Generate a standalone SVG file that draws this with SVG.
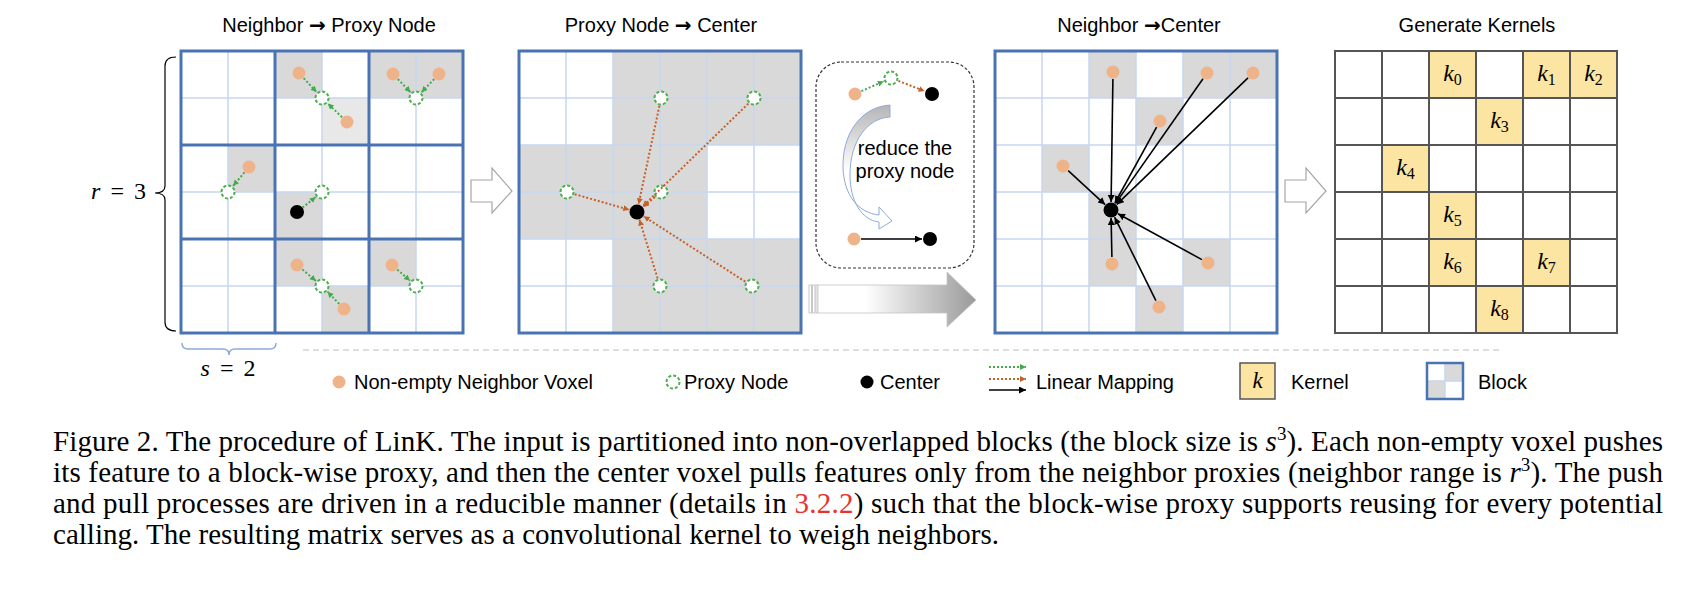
<svg xmlns="http://www.w3.org/2000/svg" width="1698" height="594" viewBox="0 0 1698 594">
<style>
.t{font-family:"Liberation Sans",Arial,sans-serif;font-size:20px;fill:#000}
.ar{font-family:"DejaVu Sans",sans-serif;font-weight:bold}
.m{font-family:"Liberation Serif","Times New Roman",serif;fill:#000}
.cap{font-family:"Liberation Serif","Times New Roman",serif;font-size:29px;fill:#000}
.gray{fill:#d9d9d9}
.thin{stroke:#c5d8ef;stroke-width:1.5;fill:none}
.thick{stroke:#4a73b3;stroke-width:3;fill:none}
.kl{stroke:#555;stroke-width:2;fill:none}
.yel{fill:#fce5a2}
.dot{fill:#efb389}
.ctr{fill:#000}
.prx{fill:#fff;stroke:#4caf50;stroke-width:2;stroke-dasharray:3 2}
.ga{stroke:#44aa4c;stroke-width:2;stroke-dasharray:2 2;fill:none;marker-end:url(#mg)}
.oa{stroke:#c4612a;stroke-width:2;stroke-dasharray:2 2;fill:none;marker-end:url(#mo)}
.ka{stroke:#000;stroke-width:1.6;fill:none;marker-end:url(#mk)}
.hol{fill:#fff;stroke:#a6a6a6;stroke-width:1.2}
</style>
<defs>
<marker id="mg" markerUnits="userSpaceOnUse" markerWidth="7" markerHeight="7" refX="6" refY="3" orient="auto"><path d="M0,0 L6,3 L0,6 z" fill="#44aa4c"/></marker>
<marker id="mo" markerUnits="userSpaceOnUse" markerWidth="7" markerHeight="7" refX="6" refY="3" orient="auto"><path d="M0,0 L6,3 L0,6 z" fill="#c4612a"/></marker>
<marker id="mk" markerUnits="userSpaceOnUse" markerWidth="8" markerHeight="8" refX="7" refY="3.5" orient="auto"><path d="M0,0 L7,3.5 L0,7 z" fill="#000"/></marker>
<linearGradient id="bigG" gradientUnits="userSpaceOnUse" x1="818" y1="0" x2="976" y2="0"><stop offset="0" stop-color="#fff"/><stop offset="0.3" stop-color="#fff"/><stop offset="1" stop-color="#9a9a9a"/></linearGradient>
<linearGradient id="curG" gradientUnits="userSpaceOnUse" x1="0" y1="105" x2="0" y2="225"><stop offset="0" stop-color="#b5b5b5"/><stop offset="0.55" stop-color="#fff"/><stop offset="1" stop-color="#fff"/></linearGradient>
</defs>

<!-- titles -->
<g id="titles">
<text class="t" x="329" y="32" text-anchor="middle">Neighbor <tspan class="ar">→</tspan> Proxy Node</text>
<text class="t" x="661" y="32" text-anchor="middle">Proxy Node <tspan class="ar">→</tspan> Center</text>
<text class="t" x="1139" y="32" text-anchor="middle">Neighbor <tspan class="ar">→</tspan>Center</text>
<text class="t" x="1477" y="32" text-anchor="middle">Generate Kernels</text>
</g>

<!-- panel 1 -->
<g id="panel1">
<rect x="181" y="51" width="282" height="282" fill="#fff"/>
<path class="gray" d="M275,51h47v47h-47z M369,51h94v47h-94z M228,145h47v47h-47z M275,192h47v94h-47z M369,239h47v47h-47z M322,286h47v47h-47z"/>
<rect x="322" y="98" width="47" height="47" fill="#e8e8e8"/>
<path class="thin" d="M228,51V333 M322,51V333 M416,51V333 M181,98H463 M181,192H463 M181,286H463"/>
<path class="thick" d="M275,51V333 M369,51V333 M181,145H463 M181,239H463"/>
<rect class="thick" x="181" y="51" width="282" height="282"/>
</g>
<g id="panel1-nodes">
<circle class="dot" cx="299" cy="73" r="6.5"/>
<circle class="dot" cx="347" cy="122" r="6.5"/>
<circle class="dot" cx="393" cy="74" r="6.5"/>
<circle class="dot" cx="439" cy="74" r="6.5"/>
<circle class="dot" cx="249" cy="167" r="6.5"/>
<circle class="dot" cx="297" cy="265" r="6.5"/>
<circle class="dot" cx="344" cy="309" r="6.5"/>
<circle class="dot" cx="392" cy="265" r="6.5"/>
<circle class="ctr" cx="297" cy="212" r="7"/>
<circle class="prx" cx="322" cy="98" r="6.5"/>
<circle class="prx" cx="416" cy="98" r="6.5"/>
<circle class="prx" cx="228" cy="192" r="6.5"/>
<circle class="prx" cx="322" cy="192" r="6.5"/>
<circle class="prx" cx="322" cy="286" r="6.5"/>
<circle class="prx" cx="416" cy="286" r="6.5"/>
</g>

<!-- panel 2 -->
<g id="panel2">
<rect x="519" y="51" width="282" height="282" fill="#fff"/>
<path class="gray" d="M613,51h188v94h-188z M519,145h188v94h-188z M613,239h188v94h-188z"/>
<path class="thin" d="M566,51V333 M613,51V333 M660,51V333 M707,51V333 M754,51V333 M519,98H801 M519,145H801 M519,192H801 M519,239H801 M519,286H801"/>
<rect class="thick" x="519" y="51" width="282" height="282"/>
</g>
<g id="panel2-nodes">
<circle class="ctr" cx="637" cy="212" r="7.5"/>
<circle class="prx" cx="661" cy="98" r="6.5"/>
<circle class="prx" cx="754" cy="98" r="6.5"/>
<circle class="prx" cx="567" cy="192" r="6.5"/>
<circle class="prx" cx="661" cy="192" r="6.5"/>
<circle class="prx" cx="660" cy="286" r="6.5"/>
<circle class="prx" cx="752" cy="286" r="6.5"/>
</g>

<!-- reduce box -->
<g id="reduce">
<rect x="816" y="62" width="158" height="206" rx="25" fill="none" stroke="#333" stroke-width="1.2" stroke-dasharray="3 2"/>
<path d="M890,105 C860,107 842,135 843,168 C844,196 859,213 879,215 L879,207 L892,221 L879,229 L879,222 C861,220 850,200 850,175 C850,140 868,118 890,117 Z" fill="url(#curG)" stroke="#8eaadb" stroke-width="1"/>
<text class="t" x="905" y="155" text-anchor="middle">reduce the</text>
<text class="t" x="905" y="178" text-anchor="middle">proxy node</text>
<circle class="dot" cx="855" cy="94" r="6.5"/>
<circle class="prx" cx="891" cy="78" r="6.5"/>
<circle class="ctr" cx="932" cy="94" r="7"/>
<circle class="dot" cx="854" cy="239" r="6.5"/>
<circle class="ctr" cx="930" cy="239" r="7"/>
</g>

<!-- big gradient arrow -->
<g id="big-arrow">
<rect x="809" y="285" width="2.5" height="28" fill="#fff" stroke="#bbb" stroke-width="0.8"/>
<rect x="812.5" y="285" width="2.5" height="28" fill="#fff" stroke="#bbb" stroke-width="0.8"/>
<rect x="816" y="285" width="2" height="28" fill="#fff" stroke="#bbb" stroke-width="0.8"/>
<polygon points="818,285 947,285 947,272 976,300 947,327 947,313 818,313" fill="url(#bigG)" stroke="#c4c4c4" stroke-width="0.8"/>
</g>

<!-- panel 3 -->
<g id="panel3">
<rect x="995" y="51" width="282" height="282" fill="#fff"/>
<path class="gray" d="M1089,51h47v47h-47z M1183,51h94v47h-94z M1136,98h47v47h-47z M1042,145h47v47h-47z M1089,192h47v94h-47z M1183,239h47v47h-47z M1136,286h47v47h-47z"/>
<path class="thin" d="M1042,51V333 M1089,51V333 M1136,51V333 M1183,51V333 M1230,51V333 M995,98H1277 M995,145H1277 M995,192H1277 M995,239H1277 M995,286H1277"/>
<rect class="thick" x="995" y="51" width="282" height="282"/>
</g>
<g id="panel3-nodes">
<circle class="dot" cx="1113" cy="72" r="6.5"/>
<circle class="dot" cx="1207" cy="73" r="6.5"/>
<circle class="dot" cx="1253" cy="73" r="6.5"/>
<circle class="dot" cx="1160" cy="121" r="6.5"/>
<circle class="dot" cx="1063" cy="166" r="6.5"/>
<circle class="dot" cx="1112" cy="264" r="6.5"/>
<circle class="dot" cx="1208" cy="263" r="6.5"/>
<circle class="dot" cx="1159" cy="307" r="6.5"/>
<circle class="ctr" cx="1111" cy="210" r="7.5"/>
</g>

<!-- panel 4 kernels -->
<g id="panel4">
<rect x="1335" y="51" width="282" height="282" fill="#fff"/>
<path class="yel" d="M1429,51h47v47h-47z M1523,51h94v47h-94z M1476,98h47v47h-47z M1382,145h47v47h-47z M1429,192h47v94h-47z M1523,239h47v47h-47z M1476,286h47v47h-47z"/>
<path class="kl" d="M1382,51V333 M1429,51V333 M1476,51V333 M1523,51V333 M1570,51V333 M1335,98H1617 M1335,145H1617 M1335,192H1617 M1335,239H1617 M1335,286H1617"/>
<rect class="kl" x="1335" y="51" width="282" height="282"/>
<g class="m" font-size="24" text-anchor="middle">
<text x="1452.5" y="81"><tspan font-style="italic">k</tspan><tspan font-size="16" dy="4">0</tspan></text>
<text x="1546.5" y="81"><tspan font-style="italic">k</tspan><tspan font-size="16" dy="4">1</tspan></text>
<text x="1593.5" y="81"><tspan font-style="italic">k</tspan><tspan font-size="16" dy="4">2</tspan></text>
<text x="1499.5" y="128"><tspan font-style="italic">k</tspan><tspan font-size="16" dy="4">3</tspan></text>
<text x="1405.5" y="175"><tspan font-style="italic">k</tspan><tspan font-size="16" dy="4">4</tspan></text>
<text x="1452.5" y="222"><tspan font-style="italic">k</tspan><tspan font-size="16" dy="4">5</tspan></text>
<text x="1452.5" y="269"><tspan font-style="italic">k</tspan><tspan font-size="16" dy="4">6</tspan></text>
<text x="1546.5" y="269"><tspan font-style="italic">k</tspan><tspan font-size="16" dy="4">7</tspan></text>
<text x="1499.5" y="316"><tspan font-style="italic">k</tspan><tspan font-size="16" dy="4">8</tspan></text>
</g>
</g>

<!-- hollow arrows between panels -->
<g id="hollow-arrows">
<polygon class="hol" points="471,180 492,180 492,168 512,191 492,213 492,202 471,202"/>
<polygon class="hol" points="1285,180 1306,180 1306,168 1326,191 1306,213 1306,202 1285,202"/>
</g>

<!-- connectors -->
<g id="connectors">
<line class="ga" x1="303.7" y1="78.2" x2="316.6" y2="92.1"/>
<line class="ga" x1="342" y1="117.2" x2="327.8" y2="103.5"/>
<line class="ga" x1="397.8" y1="79.1" x2="410.5" y2="92.2"/>
<line class="ga" x1="434.2" y1="79.1" x2="421.5" y2="92.2"/>
<line class="ga" x1="244.5" y1="172.4" x2="233.1" y2="185.9"/>
<line class="ga" x1="302.5" y1="207.6" x2="315.8" y2="197"/>
<line class="ga" x1="302.4" y1="269.5" x2="315.9" y2="280.9"/>
<line class="ga" x1="339.2" y1="303.9" x2="327.5" y2="291.8"/>
<line class="ga" x1="397.3" y1="269.6" x2="410" y2="280.7"/>

<line class="oa" x1="659.4" y1="105.8" x2="638.6" y2="204.2"/>
<line class="oa" x1="748.3" y1="103.6" x2="642.7" y2="206.4"/>
<line class="oa" x1="574.7" y1="194.2" x2="629.3" y2="209.8"/>
<line class="oa" x1="654.9" y1="197.1" x2="643.1" y2="206.9"/>
<line class="oa" x1="657.6" y1="278.4" x2="639.4" y2="219.6"/>
<line class="oa" x1="745.3" y1="281.7" x2="643.7" y2="216.3"/>

<line class="ga" x1="861.4" y1="91.2" x2="883.7" y2="81.2"/>
<line class="oa" x1="898.4" y1="80.9" x2="924.6" y2="91.1"/>
<line class="ka" x1="861" y1="239" x2="922" y2="239"/>

<line class="ka" x1="1112.9" y1="79" x2="1111.1" y2="202"/>
<line class="ka" x1="1203" y1="78.7" x2="1115.6" y2="203.4"/>
<line class="ka" x1="1248" y1="77.9" x2="1116.8" y2="204.4"/>
<line class="ka" x1="1156.6" y1="127.1" x2="1114.9" y2="203"/>
<line class="ka" x1="1068.2" y1="170.7" x2="1105.1" y2="204.6"/>
<line class="ka" x1="1111.9" y1="257" x2="1111.1" y2="218"/>
<line class="ka" x1="1201.9" y1="259.6" x2="1118" y2="213.8"/>
<line class="ka" x1="1155.9" y1="300.7" x2="1114.6" y2="217.2"/>
</g>

<!-- braces and range labels -->
<g id="braces">
<path d="M176,57 Q165,57 165,66 L165,186 Q165,193 155,193 Q165,193 165,200 L165,322 Q165,331 176,331" fill="none" stroke="#000" stroke-width="1.2"/>
<text class="m" x="118.5" y="199" font-size="24" text-anchor="middle" word-spacing="4"><tspan font-style="italic">r</tspan> = 3</text>
<path d="M182,343 Q182,349 188,349 L223,349 Q229,349 229,355 Q229,349 235,349 L270,349 Q276,349 276,343" fill="none" stroke="#8eaadb" stroke-width="1.5"/>
<text class="m" x="228" y="376" font-size="24" text-anchor="middle" word-spacing="4"><tspan font-style="italic">s</tspan> = 2</text>
</g>

<!-- legend -->
<g id="legend">
<line x1="303" y1="350" x2="1503" y2="350" stroke="#d4d4d4" stroke-width="1.5" stroke-dasharray="6 4"/>
<circle class="dot" cx="339" cy="382" r="6.5"/>
<text class="t" x="354" y="389">Non-empty Neighbor Voxel</text>
<circle class="prx" cx="673" cy="382" r="6.5"/>
<text class="t" x="684" y="389">Proxy Node</text>
<circle class="ctr" cx="867" cy="382" r="6.5"/>
<text class="t" x="880" y="389">Center</text>
<line class="ga" x1="989" y1="367" x2="1026" y2="367"/>
<line class="oa" x1="989" y1="379" x2="1026" y2="379"/>
<line class="ka" x1="989" y1="390" x2="1026" y2="390"/>
<text class="t" x="1036" y="389">Linear Mapping</text>
<rect x="1240" y="363" width="35" height="36" fill="#fce5a2" stroke="#555" stroke-width="1.5"/>
<text class="m" x="1257.5" y="388" font-size="23" font-style="italic" text-anchor="middle">k</text>
<text class="t" x="1291" y="389">Kernel</text>
<rect x="1445" y="363" width="18" height="18" class="gray"/>
<rect x="1427" y="381" width="18" height="18" class="gray"/>
<path class="thin" d="M1445,363V399 M1427,381H1463"/>
<rect x="1427" y="363" width="36" height="36" fill="none" stroke="#4a73b3" stroke-width="2.5"/>
<text class="t" x="1478" y="389">Block</text>
</g>

<!-- caption -->
<g id="caption">
<text class="cap" x="53" y="451" textLength="1610" lengthAdjust="spacing">Figure 2. The procedure of LinK. The input is partitioned into non-overlapped blocks (the block size is <tspan font-style="italic">s</tspan><tspan font-size="19" dy="-11">3</tspan><tspan dy="11">). Each non-empty voxel pushes</tspan></text>
<text class="cap" x="53" y="482" textLength="1610" lengthAdjust="spacing">its feature to a block-wise proxy, and then the center voxel pulls features only from the neighbor proxies (neighbor range is <tspan font-style="italic">r</tspan><tspan font-size="19" dy="-11">3</tspan><tspan dy="11">). The push</tspan></text>
<text class="cap" x="53" y="513" textLength="1610" lengthAdjust="spacing">and pull processes are driven in a reducible manner (details in <tspan fill="#e8322b">3.2.2</tspan>) such that the block-wise proxy supports reusing for every potential</text>
<text class="cap" x="53" y="544" textLength="946" lengthAdjust="spacing">calling. The resulting matrix serves as a convolutional kernel to weigh neighbors.</text>
</g>
</svg>
